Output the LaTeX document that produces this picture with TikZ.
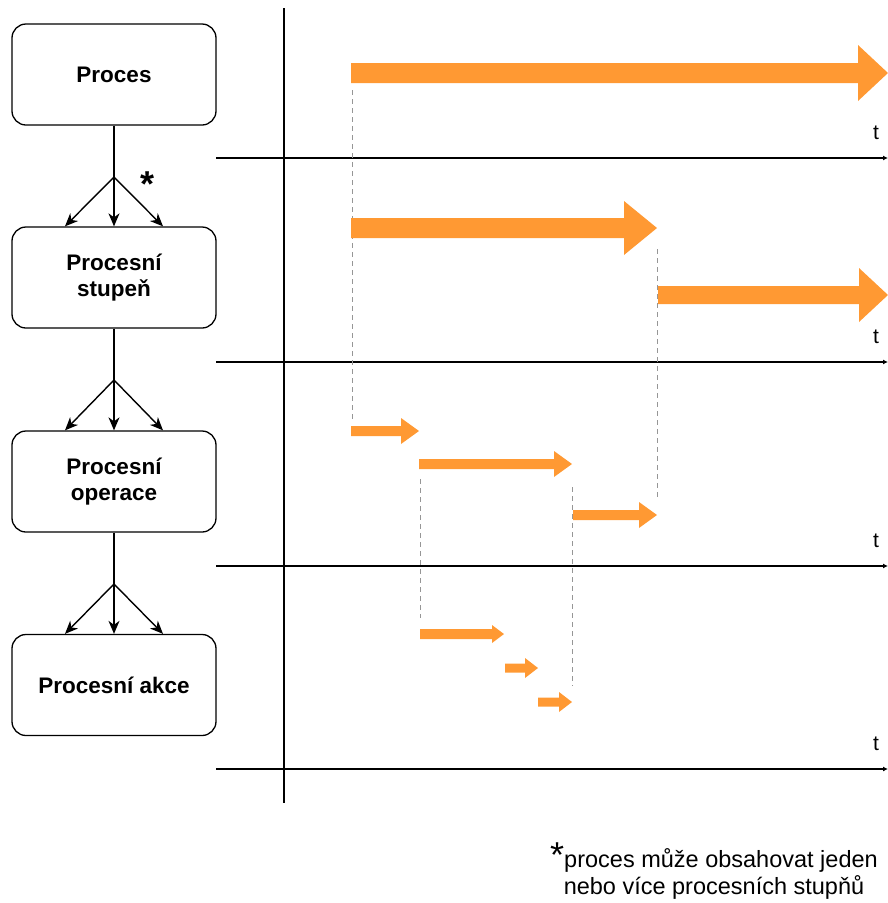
\documentclass[tikz,border=0pt]{standalone}
\usepackage{fontspec}
\setmainfont{Liberation Sans}
\usetikzlibrary{arrows.meta}
\definecolor{flexorange}{RGB}{255,153,51}
\definecolor{guidegray}{RGB}{150,150,150}

% flat block arrow: start x, tip x, centre y, half shaft, half head, head length
\newcommand\flexarrow[6]{%
  \fill[flexorange] (#1,#3-#4) -- (#2-#6,#3-#4) -- (#2-#6,#3-#5) -- (#2,#3)
    -- (#2-#6,#3+#5) -- (#2-#6,#3+#4) -- (#1,#3+#4) -- cycle;}

\begin{document}
\begin{tikzpicture}[x=1pt,y=-1pt,
  levelbox/.style={draw, line width=1.3pt, rounded corners=14pt,
    minimum width=204pt, minimum height=101pt, align=center,
    font=\fontsize{22.5}{26}\selectfont\bfseries},
  link/.style={line width=1.4pt},
  forkarrow/.style={line width=1.4pt, -{Stealth[length=13pt,width=11pt,inset=4pt]}},
  axis/.style={line width=1.4pt, -{Latex[length=5pt,width=5pt]}},
  guide/.style={draw=guidegray, line width=1pt, dash pattern=on 5pt off 4pt},
  tlabel/.style={font=\fontsize{21}{21}\selectfont}]
\useasboundingbox (0,0) rectangle (888,903);

% hierarchy of levels
\node[levelbox] (proc) at (114,74.5) {Proces};
\node[levelbox] (stup) at (114,277.5) {Procesní\\stupeň};
\node[levelbox] (oper) at (114,481.5) {Procesní\\operace};
\node[levelbox] (akce) at (114,685) {Procesní akce};

\coordinate (f1) at (114,177);
\coordinate (f2) at (114,380);
\coordinate (f3) at (114,584);

\draw[link] (proc.south) -- (f1);
\draw[forkarrow] (f1) -- ([xshift=-49pt]stup.north);
\draw[forkarrow] (f1) -- (stup.north);
\draw[forkarrow] (f1) -- ([xshift=49pt]stup.north);
\node[font=\fontsize{36}{36}\selectfont\bfseries] (star) at (148,184) {*};

\draw[link] (stup.south) -- (f2);
\draw[forkarrow] (f2) -- ([xshift=-49pt]oper.north);
\draw[forkarrow] (f2) -- (oper.north);
\draw[forkarrow] (f2) -- ([xshift=49pt]oper.north);

\draw[link] (oper.south) -- (f3);
\draw[forkarrow] (f3) -- ([xshift=-49pt]akce.north);
\draw[forkarrow] (f3) -- (akce.north);
\draw[forkarrow] (f3) -- ([xshift=49pt]akce.north);

% vertical separator
\coordinate (vtop) at (284,8);
\coordinate (vbot) at (284,803);
\draw[link] (vtop) -- (vbot);

% time axes
\foreach \i/\y in {1/158,2/362,3/566,4/769}{
  \coordinate (ax\i s) at (216,\y);
  \coordinate (ax\i e) at (888,\y);
  \draw[axis] (ax\i s) -- (ax\i e);
  \node[tlabel] (t\i) at (876,\y-25) {t};
}

% dashed guides between levels
\draw[guide] (352,90) -- (352,421);
\draw[guide] (657,249) -- (657,499);
\draw[guide] (420,479) -- (420,618);
\draw[guide] (572,487) -- (572,686);

% process
\flexarrow{351}{888}{73}{10}{28}{30}
% process stages
\flexarrow{351}{657}{228}{10}{27}{33}
\flexarrow{658}{888}{295}{9}{27}{29}
% process operations
\flexarrow{351}{419}{431}{5}{13}{18}
\flexarrow{419}{572}{464}{5}{13}{18}
\flexarrow{573}{657}{515}{5}{13}{18}
% process actions
\flexarrow{420}{504}{634}{5}{9}{12}
\flexarrow{505}{538}{668}{4.5}{10}{13}
\flexarrow{538}{572}{702}{4.5}{10}{13}

% footnote
\node[align=center, font=\fontsize{23.5}{27}\selectfont] (note) at (714,874)
  {\smash{\fontsize{36}{36}\selectfont *}proces může obsahovat jeden\\nebo více procesních stupňů};
\end{tikzpicture}
\end{document}
